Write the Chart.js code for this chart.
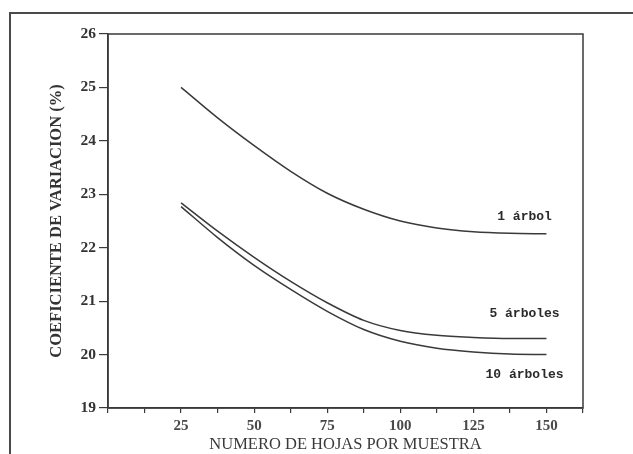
<!DOCTYPE html>
<html>
<head>
<meta charset="utf-8">
<script src="https://cdn.jsdelivr.net/npm/chart.js@4"></script>
<style>
  html, body { margin: 0; padding: 0; background: #fff; overflow: hidden; }
  #wrap { position: relative; width: 633px; height: 454px; }
  #frame { position: absolute; left: 9px; top: 12px; width: 640px; height: 460px; border: 2px solid #4a4a4a; box-sizing: border-box; }
  canvas { position: absolute; left: 0; top: 0; }
</style>
</head>
<body>
<div id="wrap">
  <div id="frame"></div>
  <canvas id="cv" width="633" height="454"></canvas>
</div>
<script>
// leaves per sample
const hojas = [25, 37.5, 50, 62.5, 75, 87.5, 100, 112.5, 125, 137.5, 150];

// coefficient of variation (%)
const unArbol = [25.0, 24.43, 23.91, 23.43, 23.02, 22.72, 22.50, 22.37, 22.30, 22.27, 22.26];
const cincoArboles = [22.84, 22.31, 21.82, 21.37, 20.97, 20.64, 20.45, 20.36, 20.32, 20.30, 20.30];
const diezArboles = [22.77, 22.19, 21.67, 21.22, 20.81, 20.47, 20.25, 20.12, 20.05, 20.01, 20.00];

const seriesNames = ['1 árbol', '5 árboles', '10 árboles'];
const yTicks = [19, 20, 21, 22, 23, 24, 25, 26];
const xLabels = [25, 50, 75, 100, 125, 150];

const ink = '#3a3a3a';

function toPoints(values) {
  return hojas.map((h, i) => ({ x: h, y: values[i] }));
}

// where each curve name sits (data units)
const namePos = [
  { x: 142.5, y: 22.58 },
  { x: 142.5, y: 20.76 },
  { x: 142.5, y: 19.62 },
];

const frameAndNames = {
  id: 'frameAndNames',
  afterDatasetsDraw(chart) {
    const { ctx, chartArea: a, scales } = chart;
    ctx.save();
    ctx.strokeStyle = ink;
    ctx.lineWidth = 1.5;
    ctx.strokeRect(a.left, a.top, a.right - a.left, a.bottom - a.top);

    ctx.fillStyle = '#2a2a2a';
    ctx.font = 'bold 13px "Liberation Mono", "DejaVu Sans Mono", monospace';
    ctx.textAlign = 'center';
    ctx.textBaseline = 'middle';
    seriesNames.forEach((name, i) => {
      const px = scales.x.getPixelForValue(namePos[i].x);
      const py = scales.y.getPixelForValue(namePos[i].y);
      ctx.fillText(name, px, py);
    });
    ctx.restore();
  }
};

const line = (label, values) => ({
  label: label,
  data: toPoints(values),
  borderColor: ink,
  borderWidth: 1.5,
  pointRadius: 0,
  fill: false,
  cubicInterpolationMode: 'monotone',
});

new Chart(document.getElementById('cv'), {
  type: 'line',
  data: {
    datasets: [
      line(seriesNames[0], unArbol),
      line(seriesNames[1], cincoArboles),
      line(seriesNames[2], diezArboles),
    ],
  },
  options: {
    responsive: false,
    animation: false,
    devicePixelRatio: 1,
    layout: { padding: { left: 0, right: 50, top: 34, bottom: 0 } },
    plugins: { legend: { display: false }, tooltip: { enabled: false } },
    scales: {
      x: {
        type: 'linear',
        min: 0,
        max: 162.5,
        afterFit: (s) => { s.height = 46; },
        afterBuildTicks: (s) => {
          const t = [];
          for (let v = 0; v <= 162.5; v += 12.5) t.push({ value: v });
          s.ticks = t;
        },
        border: { display: true, color: ink, width: 1.5 },
        grid: { drawOnChartArea: false, color: ink, tickLength: 5, lineWidth: 1.2 },
        ticks: {
          autoSkip: false,
          maxRotation: 0,
          padding: 4,
          color: '#4a4a4a',
          font: { family: '"Liberation Serif", serif', size: 15, weight: 'bold' },
          callback: (v) => (xLabels.includes(v) ? String(v) : ''),
        },
        title: {
          display: true,
          text: 'NUMERO DE HOJAS POR MUESTRA',
          color: '#3a3a3a',
          padding: { top: 0, bottom: -1 },
          font: { family: '"Liberation Serif", serif', size: 16.5 },
        },
      },
      y: {
        type: 'linear',
        min: 19,
        max: 26,
        afterFit: (s) => { s.width = 108; },
        afterBuildTicks: (s) => { s.ticks = yTicks.map((v) => ({ value: v })); },
        border: { display: true, color: ink, width: 1.5 },
        grid: { drawOnChartArea: false, color: ink, tickLength: 9, lineWidth: 1.2 },
        ticks: {
          padding: 3,
          color: '#333',
          font: { family: '"Liberation Serif", serif', size: 15.5, weight: 'bold' },
        },
        title: {
          display: true,
          text: 'COEFICIENTE DE VARIACION (%)',
          color: '#333',
          padding: { top: 47, bottom: 0 },
          font: { family: '"Liberation Serif", serif', size: 16.5, weight: 'bold' },
        },
      },
    },
  },
  plugins: [frameAndNames],
});
</script>
</body>
</html>
